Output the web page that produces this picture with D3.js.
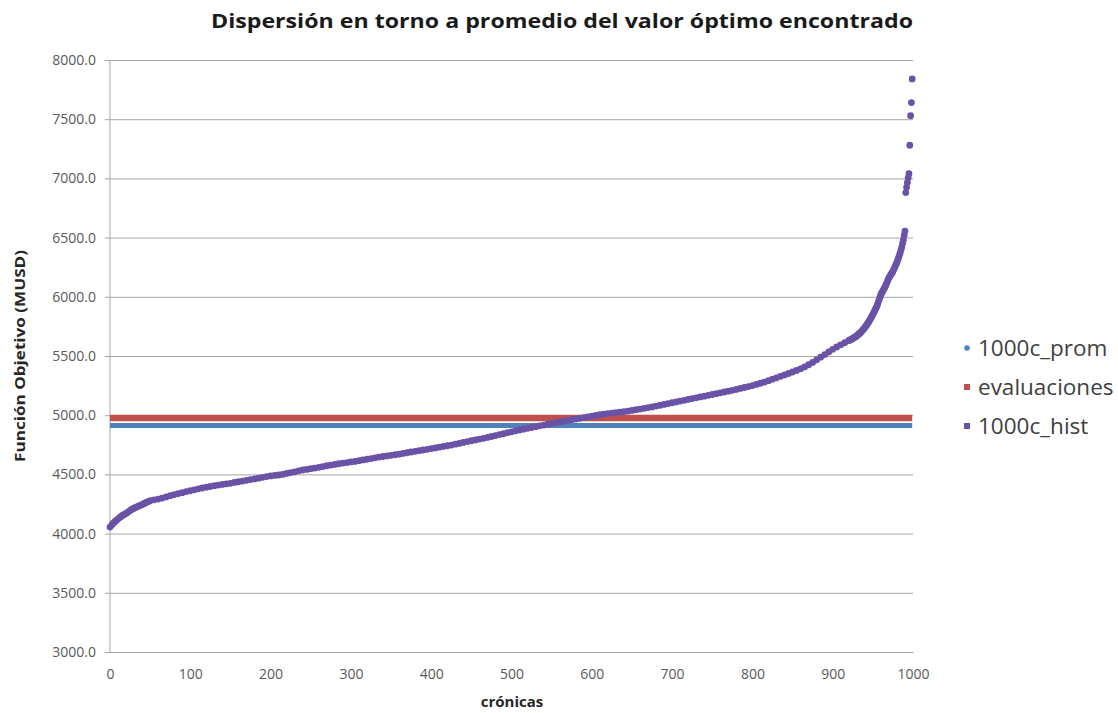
<!DOCTYPE html>
<html>
<head>
<meta charset="utf-8">
<script src="https://cdn.jsdelivr.net/npm/d3@7"></script>
<style>
  html, body { margin: 0; padding: 0; background: #ffffff; }
  svg { display: block; }
</style>
</head>
<body>
<svg id="chart" width="1118" height="713"></svg>
<script>
// Sorted objective-function values per crónica (1000c_hist), sampled along the curve
const histCronicas = [
  0,2,4,6,8,10,12,14,16,18,20,22,24,26,28,30,32,34,36,38,40,42,44,46,48,
  50,55,60,65,70,75,80,85,90,95,
  100,105,110,115,120,125,130,135,140,145,150,155,160,165,170,175,180,185,190,195,
  200,205,210,215,220,225,230,235,240,245,250,255,260,265,270,275,280,285,290,295,
  300,305,310,315,320,325,330,335,340,345,350,355,360,365,370,375,380,385,390,395,
  400,405,410,415,420,425,430,435,440,445,450,455,460,465,470,475,480,485,490,495,
  500,505,510,515,520,525,530,535,540,545,550,555,560,565,570,575,580,585,590,595,
  600,605,610,615,620,625,630,635,640,645,650,655,660,665,670,675,680,685,690,695,
  700,705,710,715,720,725,730,735,740,745,750,755,760,765,770,775,780,785,790,795,
  800,805,810,815,820,825,830,835,840,845,850,855,860,865,870,875,880,885,890,895,
  900,905,910,915,
  920,921,922,923,924,925,926,927,928,929,930,931,932,933,934,935,936,937,938,939,
  940,941,942,943,944,945,946,947,948,949,950,951,952,953,954,955,956,957,958,959,
  960,961,962,963,964,965,966,967,968,969,970,971,972,973,974,975,976,977,978,979,
  980,981,982,983,984,985,986,987,988,989,990,991,992,993,994,995,996,997,998,999
];
const histValues = [
  4055,4072,4088,4100,4112,4125,4135,4145,4155,4163,4170,4180,4190,4200,4208,4215,4221,4227,4233,4239,4245,4252,4259,4266,4272,
  4278,4285,4292,4300,4310,4320,4330,4338,4346,4355,
  4362,4370,4378,4385,4392,4398,4405,4410,4415,4420,4425,4432,4438,4444,4450,4456,4462,4468,4475,4482,
  4487,4491,4495,4500,4508,4515,4522,4530,4537,4542,4548,4553,4560,4566,4573,4579,4584,4590,4596,4600,
  4605,4610,4616,4622,4628,4634,4640,4646,4651,4656,4661,4666,4671,4677,4683,4689,4695,4700,4706,4712,
  4718,4724,4730,4736,4742,4748,4755,4762,4770,4777,4784,4791,4798,4805,4812,4820,4828,4836,4844,4852,
  4860,4868,4875,4882,4889,4896,4903,4910,4917,4924,4931,4938,4944,4950,4956,4962,4968,4974,4980,4986,
  4992,4998,5004,5009,5014,5018,5022,5026,5030,5035,5040,5046,5052,5058,5064,5070,5077,5084,5091,5098,
  5105,5112,5119,5126,5133,5140,5147,5154,5161,5168,5175,5182,5189,5196,5203,5210,5218,5226,5234,5242,
  5250,5260,5270,5280,5292,5304,5316,5328,5340,5352,5365,5378,5392,5408,5426,5446,5468,5490,5512,5534,
  5556,5576,5594,5612,
  5630,5634,5637,5641,5644,5648,5652,5656,5661,5665,5670,5676,5682,5688,5694,5700,5708,5716,5724,5732,
  5740,5750,5760,5770,5780,5790,5802,5814,5826,5838,5850,5864,5878,5892,5906,5920,5940,5960,5980,6000,
  6020,6032,6044,6056,6068,6080,6096,6112,6128,6144,6160,6171,6182,6193,6204,6215,6230,6245,6260,6275,
  6290,6310,6330,6350,6370,6395,6420,6450,6480,6520,6555,6880,6925,6965,7005,7040,7280,7530,7640,7840
];

// Constant reference levels drawn across every crónica
const promValue = 4914;   // 1000c_prom
const evalValue = 4977;   // evaluaciones
const firstCronica = 0;
const lastCronica = 999;

const yTicks = [3000, 3500, 4000, 4500, 5000, 5500, 6000, 6500, 7000, 7500, 8000];
const xTicks = [0, 100, 200, 300, 400, 500, 600, 700, 800, 900, 1000];

const legendNames = ["1000c_prom", "evaluaciones", "1000c_hist"];
const seriesColors = ["#4F81BD", "#C0504D", "#6A52A6"];

const chartTitle = "Dispersión en torno a promedio del valor óptimo encontrado";
const xTitle = "crónicas";
const yTitle = "Función Objetivo (MUSD)";

const svg = d3.select("#chart");
const font = "'Open Sans', 'Liberation Sans', sans-serif";
const plotLeft = 110, plotRight = 913, plotTop = 60, plotBottom = 652;

const x = d3.scaleLinear().domain([0, 1000]).range([plotLeft, plotRight]);
const y = d3.scaleLinear().domain([3000, 8000]).range([plotBottom, plotTop]);

// Title
svg.append("text")
  .attr("x", 562).attr("y", 28)
  .attr("text-anchor", "middle")
  .attr("font-family", font).attr("font-weight", 700).attr("font-size", 20)
  .attr("fill", "#1a1a1a")
  .attr("textLength", 702).attr("lengthAdjust", "spacingAndGlyphs")
  .text(chartTitle);

// Horizontal gridlines with small outside ticks
const yAxis = d3.axisLeft(y).tickValues(yTicks).tickSize(-(plotRight - plotLeft)).tickFormat(d => d.toFixed(1)).tickPadding(14);
const gy = svg.append("g").attr("transform", `translate(${plotLeft},0)`).call(yAxis);
gy.select(".domain").remove();
gy.selectAll(".tick line")
  .attr("x1", -5)
  .attr("stroke", "#a6a6a6").attr("stroke-width", 1);
gy.selectAll(".tick text")
  .attr("font-family", font).attr("font-size", 14).attr("fill", "#595959");

// Left axis line
svg.append("line")
  .attr("x1", plotLeft).attr("x2", plotLeft).attr("y1", plotTop).attr("y2", plotBottom)
  .attr("stroke", "#a6a6a6").attr("stroke-width", 1);

// Bottom axis
const xAxis = d3.axisBottom(x).tickValues(xTicks).tickSize(0).tickPadding(17).tickFormat(d3.format("d"));
const gx = svg.append("g").attr("transform", `translate(0,${plotBottom})`).call(xAxis);
gx.select(".domain").attr("stroke", "#a6a6a6");
gx.selectAll(".tick text")
  .attr("font-family", font).attr("font-size", 14).attr("fill", "#595959");

// Axis titles
svg.append("text")
  .attr("x", 512).attr("y", 707)
  .attr("text-anchor", "middle")
  .attr("font-family", font).attr("font-weight", 700).attr("font-size", 15)
  .attr("fill", "#262626")
  .text(xTitle);

svg.append("text")
  .attr("transform", `translate(25,356) rotate(-90)`)
  .attr("text-anchor", "middle")
  .attr("font-family", font).attr("font-weight", 700).attr("font-size", 15)
  .attr("fill", "#262626")
  .attr("textLength", 212).attr("lengthAdjust", "spacingAndGlyphs")
  .text(yTitle);

// Reference levels (dense markers form solid bands)
svg.append("line")
  .attr("x1", x(firstCronica)).attr("x2", x(lastCronica))
  .attr("y1", y(promValue)).attr("y2", y(promValue))
  .attr("stroke", seriesColors[0]).attr("stroke-width", 5);

svg.append("line")
  .attr("x1", x(firstCronica)).attr("x2", x(lastCronica))
  .attr("y1", y(evalValue)).attr("y2", y(evalValue))
  .attr("stroke", seriesColors[1]).attr("stroke-width", 6.5);

// Sorted values
const pts = histCronicas.map((c, i) => ({ c, v: histValues[i] }));
svg.append("g").selectAll("circle").data(pts).join("circle")
  .attr("cx", d => x(d.c))
  .attr("cy", d => y(d.v))
  .attr("r", 3.4)
  .attr("fill", seriesColors[2]);

// Legend
const lg = svg.append("g");
const legendBaseline = [356, 395, 434];
legendNames.forEach((name, i) => {
  const cy = legendBaseline[i] - 8;
  if (i === 0) {
    lg.append("circle").attr("cx", 967).attr("cy", cy).attr("r", 2.8).attr("fill", seriesColors[i]);
  } else {
    lg.append("rect").attr("x", 964).attr("y", cy - 3).attr("width", 6).attr("height", 6).attr("fill", seriesColors[i]);
  }
  lg.append("text")
    .attr("x", 978).attr("y", legendBaseline[i])
    .attr("font-family", font).attr("font-size", 22.5).attr("fill", "#404040")
    .text(name);
});
</script>
</body>
</html>
